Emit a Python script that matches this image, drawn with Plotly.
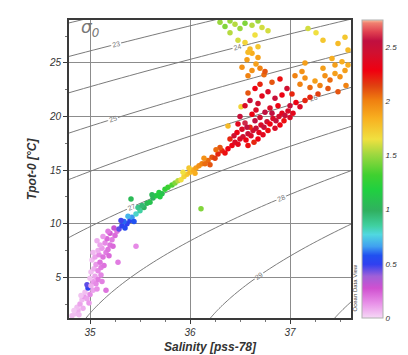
import numpy as np
import plotly.graph_objects as go

# ---- data: (salinity, potential temperature, colour value)
points = [
    # pink band (deep)
    (34.82,1.4,0.05),(34.85,1.6,0.05),(34.88,1.9,0.08),(34.87,2.2,0.05),(34.90,2.5,0.10),
    (34.93,2.1,0.08),(34.92,2.9,0.06),(34.94,3.2,0.12),(34.97,3.0,0.10),(34.95,3.6,0.05),
    (35.00,3.4,0.15),(34.98,4.0,0.50),(34.97,4.3,0.45),(35.01,4.2,0.08),(35.03,4.6,0.12),
    (35.06,4.4,0.15),(35.00,4.9,0.05),(35.05,5.1,0.10),(35.08,4.8,0.18),(35.01,5.5,0.05),
    (35.04,5.8,0.08),(35.08,5.6,0.15),(35.11,5.9,0.18),(35.06,6.2,0.12),(35.10,6.4,0.20),
    (35.02,6.6,0.05),(35.05,6.9,0.10),(35.09,7.1,0.15),(35.13,6.9,0.20),(35.16,7.3,0.18),
    (35.08,7.5,0.08),(35.12,7.7,0.12),(35.18,7.6,0.20),(35.10,8.0,0.10),(35.15,8.2,0.15),
    (35.20,8.0,0.20),(35.17,8.6,0.22),(35.22,8.5,0.18),(35.13,8.8,0.12),(35.25,8.9,0.22),
    (35.20,9.1,0.25),(35.27,9.3,0.20),(35.16,3.8,0.20),(35.28,6.4,0.18),(35.46,7.9,0.15),
    (34.84,1.9,0.03),(34.89,1.5,0.06),(34.91,3.3,0.04),(34.99,2.6,0.12),(35.03,3.8,0.10),
    (35.07,3.9,0.14),(35.11,5.2,0.16),(35.14,6.1,0.20),(35.03,7.3,0.06),(35.07,8.4,0.08),
    (35.19,7.0,0.22),(35.23,7.9,0.22),(35.18,9.3,0.18),(35.24,9.6,0.30),(35.12,4.6,0.17),
    # blue / cyan / green
    (35.29,9.5,0.45),(35.32,9.8,0.50),(35.35,9.6,0.55),(35.37,10.0,0.50),(35.34,10.2,0.60),
    (35.40,10.3,0.52),(35.42,10.6,0.65),(35.38,10.7,0.70),(35.46,10.9,0.80),(35.50,11.2,0.85),
    (35.48,11.5,0.90),(35.41,12.3,1.05),(35.54,11.5,1.00),(35.57,11.9,1.05),(35.60,12.0,1.10),
    (35.63,12.4,1.00),(35.66,12.6,1.15),(35.69,12.9,1.20),(35.72,12.8,1.10),(35.75,13.2,1.25),
    (35.78,13.4,1.30),(35.82,13.6,1.35),(35.85,13.8,1.45),(36.11,11.4,1.45),
    (35.31,10.3,0.48),(35.44,10.2,0.58),(35.52,11.7,0.95),(35.62,12.7,1.05),(35.70,12.5,1.15),
    # yellow / orange band
    (35.88,14.0,1.55),(35.91,14.1,1.65),(35.94,14.4,1.70),(35.97,14.6,1.75),(36.00,14.8,1.80),
    (36.03,15.0,1.85),(36.06,15.2,1.90),(36.09,15.4,1.95),(35.99,15.2,1.75),(36.12,15.6,2.00),
    (36.15,15.6,2.05),(36.18,15.9,2.05),(36.22,16.2,2.10),(36.25,16.1,2.15),(36.28,16.5,2.20),
    (36.32,16.8,2.20),(36.35,16.6,2.25),(36.38,17.0,2.30),(36.30,17.1,2.10),(36.38,19.1,1.80),
    (35.93,14.8,1.65),(36.05,14.7,1.85),(36.14,16.1,1.95),(36.20,15.5,2.10),(36.26,16.9,2.05),
    # red cluster
    (36.42,17.3,2.30),(36.45,17.6,2.40),(36.48,17.4,2.35),(36.50,17.9,2.40),(36.53,18.1,2.45),
    (36.56,17.8,2.30),(36.58,18.4,2.50),(36.61,18.2,2.40),(36.63,18.7,2.45),(36.66,18.9,2.50),
    (36.69,18.5,2.35),(36.71,19.2,2.40),(36.74,19.0,2.50),(36.77,19.5,2.45),(36.80,19.3,2.30),
    (36.83,19.8,2.40),(36.86,19.6,2.50),(36.89,20.0,2.45),(36.92,20.3,2.35),(36.95,20.1,2.50),
    (36.98,20.5,2.40),(36.60,19.0,2.20),(36.65,19.6,2.55),(36.70,19.9,2.45),(36.55,19.4,2.60),
    (36.50,20.0,2.50),(36.62,20.2,2.30),(36.75,20.4,2.55),(36.80,20.8,2.40),(36.88,21.0,2.30),
    (36.47,18.5,2.30),(36.52,18.8,2.40),(36.68,17.9,2.30),(36.73,18.3,2.35),(36.85,18.9,2.40),
    (36.90,19.2,2.30),(37.00,19.9,2.40),(37.03,20.3,2.35),(36.51,20.9,1.70),
    (36.40,17.9,2.20),(36.44,18.2,2.45),(36.58,17.3,2.25),(36.64,17.6,2.20),(36.57,19.0,2.55),
    (36.78,18.7,2.25),(36.82,20.3,2.55),(36.94,19.6,2.25),(36.48,19.3,2.35),(36.66,20.6,2.40),
    # red middle
    (36.55,21.0,2.40),(36.60,21.5,2.50),(36.68,21.2,2.45),(36.72,21.9,2.35),(36.78,22.3,2.40),
    (36.85,21.7,2.50),(36.92,22.0,2.30),(36.97,22.6,2.45),(37.02,22.1,2.20),(36.65,22.6,2.30),
    (36.70,23.0,2.20),(36.82,23.2,2.10),(36.90,23.5,2.25),(36.58,22.2,2.10),(37.06,21.3,2.30),
    (37.10,20.9,2.40),(37.15,21.5,2.20),(37.00,21.0,2.50),
    # orange column
    (36.58,23.8,2.00),(36.62,24.3,1.95),(36.66,24.9,1.90),(36.70,24.5,2.00),(36.74,23.9,2.05),
    (36.57,25.3,1.90),(36.62,25.9,1.85),(36.68,25.5,1.90),(36.75,24.2,2.10),(36.60,26.3,1.80),
    (36.52,24.6,1.95),
    # orange right plume
    (37.10,23.0,2.00),(37.15,23.6,1.95),(37.20,22.7,2.05),(37.25,23.3,1.90),(37.30,22.9,2.00),
    (37.35,23.8,1.95),(37.40,23.4,2.05),(37.45,24.0,1.90),(37.50,23.7,1.95),(37.55,24.3,1.90),
    (37.58,24.8,1.85),(37.52,25.1,1.85),(37.45,24.8,1.90),(37.38,22.6,2.10),(37.28,22.1,2.15),
    (37.20,21.8,2.20),(37.33,24.5,1.90),(37.12,24.2,1.95),(37.05,23.8,2.00),(37.42,25.4,1.85),
    (37.56,22.9,2.00),(37.48,22.3,2.10),(37.15,25.0,1.90),
    # top right
    (37.18,28.2,1.60),(37.26,27.8,1.65),(37.33,27.1,1.75),(37.48,26.8,1.80),(37.55,27.4,1.75),
    (37.58,26.2,1.80),
    # yellow top
    (36.30,28.8,1.50),(36.35,28.4,1.45),(36.40,28.9,1.50),(36.45,28.6,1.55),(36.50,28.2,1.50),
    (36.55,28.7,1.45),(36.62,28.5,1.55),(36.68,28.9,1.50),(36.72,28.3,1.60),(36.48,27.1,1.60),
    (36.40,27.8,1.55),(36.65,27.6,1.65),(36.78,28.0,1.60),
    (36.58,26.0,1.80),(36.68,26.5,1.75),(36.55,26.9,1.70),
]
salinity = [p[0] for p in points]
tpot = [p[1] for p in points]
value = [p[2] for p in points]

x_ticks = [35, 36, 37]
y_ticks = [5, 10, 15, 20, 25]
cbar_ticks = [0, 0.5, 1, 1.5, 2, 2.5]
cbar_labels = ["0", "0.5", "1", "1.5", "2", "2.5"]
sigma_levels = (20, 31, 1)

# ---- sigma-0 density grid (UNESCO EOS-80 at p = 0)
S_grid = np.linspace(34.6, 37.8, 161)
T_grid = np.linspace(0.0, 30.0, 151)
S, T = np.meshgrid(S_grid, T_grid)
rho_w = (999.842594 + 6.793952e-2*T - 9.095290e-3*T**2 + 1.001685e-4*T**3
         - 1.120083e-6*T**4 + 6.536332e-9*T**5)
rho = (rho_w + S*(0.824493 - 4.0899e-3*T + 7.6438e-5*T**2 - 8.2467e-7*T**3 + 5.3875e-9*T**4)
       + S**1.5*(-5.72466e-3 + 1.0227e-4*T - 1.6546e-6*T**2) + 4.8314e-4*S**2)
sigma0 = rho - 1000.0

colorscale = [
    [0.00, "#f6d8f6"], [0.05, "#e890e8"], [0.10, "#d050d0"], [0.14, "#a060d8"],
    [0.18, "#3040f0"], [0.21, "#2050f0"], [0.24, "#40a0f0"], [0.28, "#50d8e0"],
    [0.31, "#40d0a0"], [0.36, "#30b060"], [0.43, "#20d040"], [0.48, "#40d030"],
    [0.55, "#a0d840"], [0.60, "#f0e040"], [0.67, "#f8b020"], [0.73, "#f08010"],
    [0.78, "#e04010"], [0.83, "#f00010"], [0.89, "#d01030"], [0.93, "#c01040"],
    [0.96, "#e04050"], [0.99, "#f08070"], [1.00, "#f8c0a0"],
]

fig = go.Figure()
fig.add_trace(go.Contour(
    x=S_grid, y=T_grid, z=sigma0,
    contours=dict(start=sigma_levels[0], end=sigma_levels[1], size=sigma_levels[2],
                  coloring="lines", showlabels=True,
                  labelfont=dict(size=7, color="#777")),
    colorscale=[[0, "#7a7a7a"], [1, "#7a7a7a"]],
    line=dict(width=1), showscale=False, hoverinfo="skip",
))
fig.add_trace(go.Scatter(
    x=salinity, y=tpot, mode="markers",
    marker=dict(size=5.5, color=value, colorscale=colorscale, cmin=0, cmax=2.75,
                line=dict(width=0),
                colorbar=dict(x=1.04, xanchor="left", y=0.5, yanchor="middle",
                              len=1.0, lenmode="fraction", thickness=21,
                              outlinewidth=1, outlinecolor="#b0b0b0",
                              tickvals=cbar_ticks, ticktext=cbar_labels, ticks="",
                              tickfont=dict(size=8, color="#333",
                                            family="Liberation Sans", style="italic"),
                              ypad=0, xpad=0)),
    showlegend=False, hoverinfo="skip",
))

axis_common = dict(
    showgrid=True, gridcolor="#8c8c8c", gridwidth=1, zeroline=False,
    showline=True, linecolor="#3a3a3a", linewidth=2, mirror=True,
    ticks="outside", ticklen=4, tickcolor="#3a3a3a", tickwidth=1,
    tickfont=dict(size=10, color="#333", family="Liberation Sans", style="italic"),
)
title_font = dict(size=12, color="#333", family="Liberation Sans", weight="bold", style="italic")
fig.update_xaxes(range=[34.79, 37.61], tickvals=x_ticks,
                 minor=dict(dtick=0.25, ticks="outside", ticklen=2, tickcolor="#777", showgrid=False),
                 title=dict(text="Salinity [pss-78]", standoff=6, font=title_font),
                 **axis_common)
fig.update_yaxes(range=[1.2, 29.0], tickvals=y_ticks,
                 minor=dict(dtick=2.5, ticks="outside", ticklen=2, tickcolor="#777", showgrid=False),
                 **axis_common)

fig.add_annotation(x=-0.131, y=0.5, xref="paper", yref="paper", xanchor="center", yanchor="middle",
                   text="Tpot-0 [°C]", textangle=-90, showarrow=False, font=title_font)
fig.add_annotation(x=0.035, y=0.97, xref="paper", yref="paper", xanchor="left", yanchor="middle",
                   text="σ<sub>0</sub>", showarrow=False,
                   font=dict(size=17, color="#777", family="DejaVu Sans", style="italic"))
fig.add_annotation(x=1.015, y=0.1, xref="paper", yref="paper", xanchor="center", yanchor="middle",
                   text="Ocean Data View", textangle=-90, showarrow=False,
                   font=dict(size=6, color="#444", family="Liberation Sans"))

fig.update_layout(
    width=408, height=355,
    margin=dict(l=61, r=65, t=10, b=45),
    paper_bgcolor="white", plot_bgcolor="white",
    font=dict(family="Liberation Sans"),
)
fig.write_html("out.html")
